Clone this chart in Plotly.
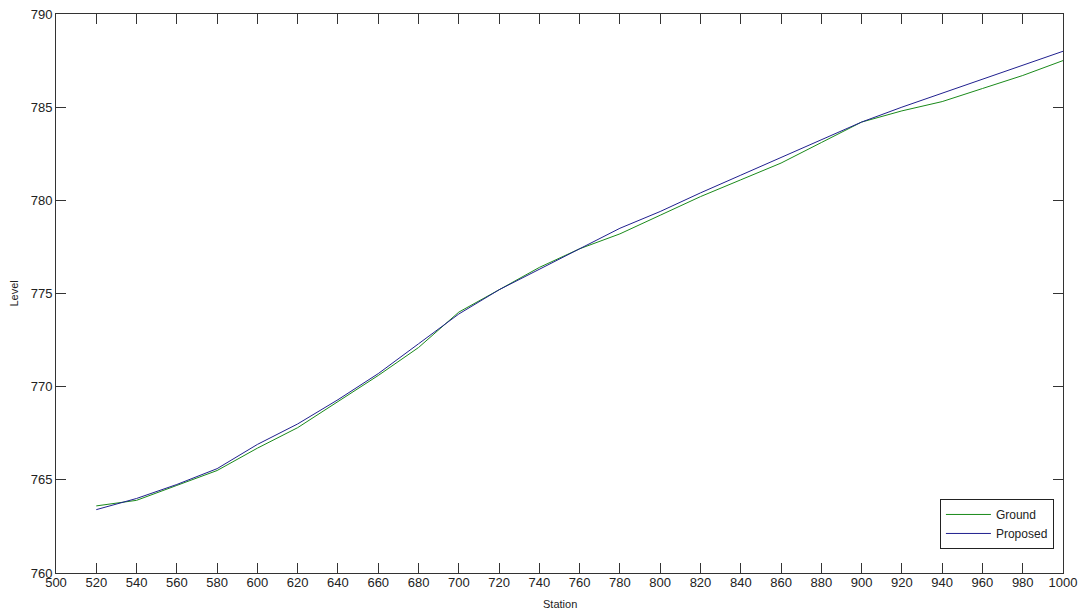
import plotly.graph_objects as go

station = [520, 540, 560, 580, 600, 620, 640, 660, 680, 700, 720, 740, 760,
           780, 800, 820, 840, 860, 880, 900, 920, 940, 960, 980, 1000]
ground = [763.6, 763.9, 764.7, 765.5, 766.7, 767.8, 769.2, 770.6, 772.1, 774.0,
          775.2, 776.4, 777.4, 778.2, 779.2, 780.2, 781.1, 782.0, 783.1, 784.2,
          784.8, 785.3, 786.0, 786.7, 787.5]
proposed = [763.4, 764.0, 764.75, 765.6, 766.9, 768.0, 769.3, 770.7, 772.3, 773.9,
            775.2, 776.3, 777.4, 778.5, 779.4, 780.4, 781.35, 782.3, 783.25, 784.2,
            785.0, 785.75, 786.5, 787.25, 788.0]
x_ticks = list(range(500, 1001, 20))
y_ticks = list(range(760, 791, 5))

FONT = "Liberation Sans, Arial"

fig = go.Figure()
fig.add_trace(go.Scatter(x=station, y=ground, mode="lines", name="Ground",
                         line=dict(color="#1a8a1a", width=1)))
fig.add_trace(go.Scatter(x=station, y=proposed, mode="lines", name="Proposed",
                         line=dict(color="#20208f", width=1)))

axis_common = dict(showgrid=False, zeroline=False, showline=True, linecolor="#333",
                   linewidth=1, mirror="ticks", ticks="inside", ticklen=10,
                   tickcolor="#333", tickwidth=1, automargin=False,
                   tickfont=dict(family=FONT, size=13, color="#222"))

fig.update_layout(
    width=1081, height=615,
    margin=dict(l=56, r=18, t=14, b=42, autoexpand=False),
    paper_bgcolor="white", plot_bgcolor="white",
    xaxis=dict(range=[500, 1000], tickvals=x_ticks, ticktext=[str(v) for v in x_ticks],
               ticklabelstandoff=-3, **axis_common),
    yaxis=dict(range=[760, 790], tickvals=y_ticks, ticktext=[str(v) for v in y_ticks],
               **axis_common),
    legend=dict(x=0.991, y=0.043, xanchor="right", yanchor="bottom",
                bgcolor="white", bordercolor="#222", borderwidth=1,
                font=dict(family=FONT, size=12, color="#222"),
                tracegroupgap=0, itemwidth=45),
    showlegend=True,
    annotations=[
        dict(text="Station", xref="paper", yref="paper", x=0.5, y=0,
             xanchor="center", yanchor="top", yshift=-23, showarrow=False,
             font=dict(family=FONT, size=11, color="#222")),
        dict(text="Level", xref="paper", yref="paper", x=0, y=0.5,
             xanchor="right", yanchor="middle", xshift=-35, textangle=-90,
             showarrow=False, font=dict(family=FONT, size=11, color="#222")),
    ],
)

fig.write_html("out.html", config={"displayModeBar": False},
               post_script="document.body.style.margin='0';document.body.style.overflow='hidden';")
